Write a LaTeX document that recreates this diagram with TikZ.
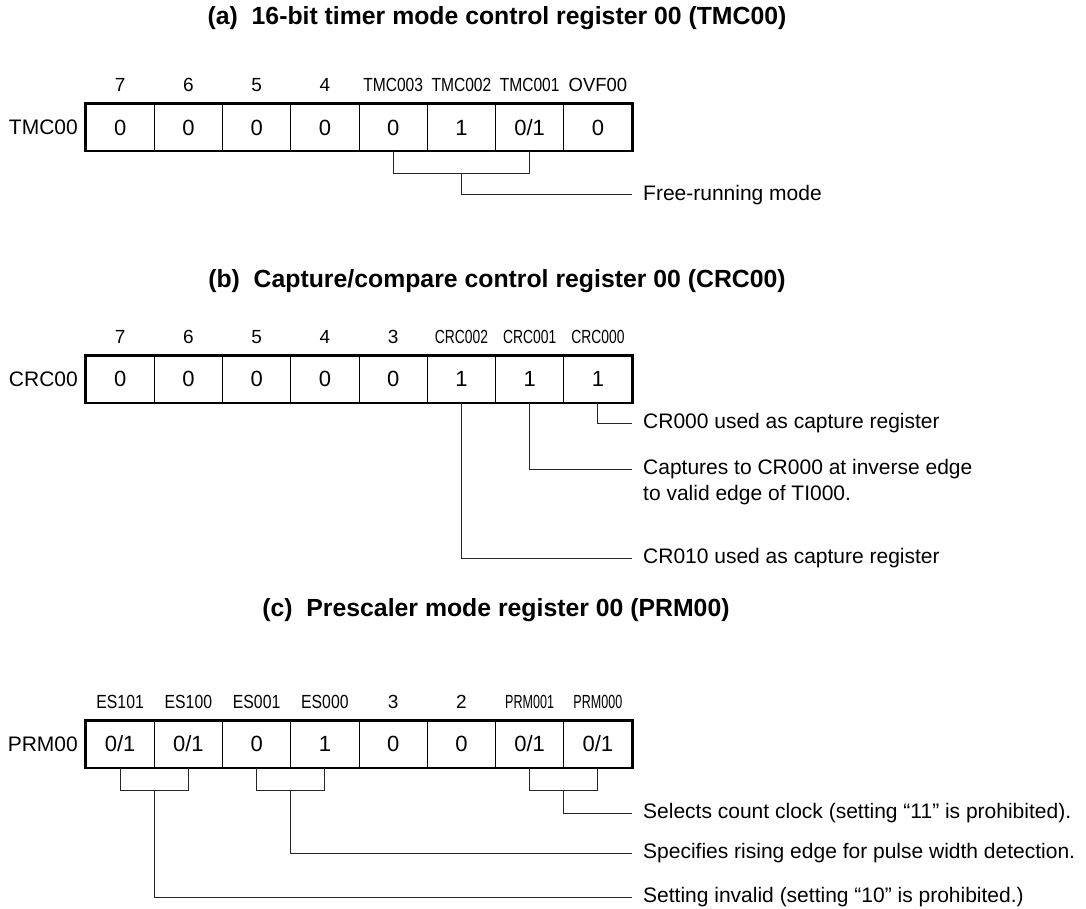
\documentclass[tikz,border=0pt]{standalone}
\usepackage{fontspec}
\usepackage{graphicx}
\setmainfont{Liberation Sans}
\usetikzlibrary{calc}
\begin{document}
\begin{tikzpicture}[x=1pt,y=-1pt,
  regcell/.style={draw,line width=1pt,minimum width=68.25pt,minimum height=46.5pt,inner sep=0pt,font=\fontsize{22}{25}\selectfont},
  regframe/.style={draw,line width=2.5pt},
  bitlbl/.style={inner sep=0pt,font=\fontsize{19}{22}\selectfont},
  reglbl/.style={anchor=east,inner sep=0pt,font=\fontsize{21}{24}\selectfont},
  ttl/.style={inner sep=0pt,font=\fontsize{24.8}{28}\selectfont\bfseries},
  desc/.style={anchor=west,inner xsep=11pt,inner ysep=0pt,align=left,font=\fontsize{21}{26}\selectfont},
  conn/.style={draw,line width=1pt,black!85}]
\useasboundingbox (0,0) rectangle (1086,909);

% ---------- (a) ----------
\node[ttl] (tta) at (497,18) {(a)\ \ 16-bit timer mode control register 00 (TMC00)};
\node[regcell] (a0) at (120.125,127.5) {0};
\node[regcell] (a1) at (188.375,127.5) {0};
\node[regcell] (a2) at (256.625,127.5) {0};
\node[regcell] (a3) at (324.875,127.5) {0};
\node[regcell] (a4) at (393.125,127.5) {0};
\node[regcell] (a5) at (461.375,127.5) {1};
\node[regcell] (a6) at (529.625,127.5) {0/1};
\node[regcell] (a7) at (597.875,127.5) {0};
\draw[regframe] (a0.north west) rectangle (a7.south east);
\node[reglbl] (la) at (78,127.5) {TMC00};
\node[bitlbl] (ba0) at (120.125,85) {7};
\node[bitlbl] (ba1) at (188.375,85) {6};
\node[bitlbl] (ba2) at (256.625,85) {5};
\node[bitlbl] (ba3) at (324.875,85) {4};
\node[bitlbl] (ba4) at (393.125,85) {\scalebox{0.82}[1]{TMC003}};
\node[bitlbl] (ba5) at (461.375,85) {\scalebox{0.82}[1]{TMC002}};
\node[bitlbl] (ba6) at (529.625,85) {\scalebox{0.82}[1]{TMC001}};
\node[bitlbl] (ba7) at (597.875,85) {\scalebox{0.97}[1]{OVF00}};
\coordinate (abr) at ($(a5.south)+(0,22)$);
\draw[conn] (a4.south) |- (abr) -| (a6.south);
\node[desc] (da) at (632,195) {Free-running mode};
\draw[conn] (abr) |- (da.west);

% ---------- (b) ----------
\node[ttl] (ttb) at (497,281) {(b)\ \ Capture/compare control register 00 (CRC00)};
\node[regcell] (b0) at (120.125,379) {0};
\node[regcell] (b1) at (188.375,379) {0};
\node[regcell] (b2) at (256.625,379) {0};
\node[regcell] (b3) at (324.875,379) {0};
\node[regcell] (b4) at (393.125,379) {0};
\node[regcell] (b5) at (461.375,379) {1};
\node[regcell] (b6) at (529.625,379) {1};
\node[regcell] (b7) at (597.875,379) {1};
\draw[regframe] (b0.north west) rectangle (b7.south east);
\node[reglbl] (lb) at (78,379) {CRC00};
\node[bitlbl] (bb0) at (120.125,337) {7};
\node[bitlbl] (bb1) at (188.375,337) {6};
\node[bitlbl] (bb2) at (256.625,337) {5};
\node[bitlbl] (bb3) at (324.875,337) {4};
\node[bitlbl] (bb4) at (393.125,337) {3};
\node[bitlbl] (bb5) at (461.375,337) {\scalebox{0.73}[1]{CRC002}};
\node[bitlbl] (bb6) at (529.625,337) {\scalebox{0.73}[1]{CRC001}};
\node[bitlbl] (bb7) at (597.875,337) {\scalebox{0.73}[1]{CRC000}};
\node[desc] (db1) at (632,423) {CR000 used as capture register};
\node[desc] (db2) at (632,482) {Captures to CR000 at inverse edge\\to valid edge of TI000.};
\node[desc] (db3) at (632,558) {CR010 used as capture register};
\draw[conn] (b7.south) |- (db1.west);
\draw[conn] (b6.south) |- ([yshift=13pt]db2.west);
\draw[conn] (b5.south) |- (db3.west);

% ---------- (c) ----------
\node[ttl] (ttc) at (496,610) {(c)\ \ Prescaler mode register 00 (PRM00)};
\node[regcell] (c0) at (120.125,744) {0/1};
\node[regcell] (c1) at (188.375,744) {0/1};
\node[regcell] (c2) at (256.625,744) {0};
\node[regcell] (c3) at (324.875,744) {1};
\node[regcell] (c4) at (393.125,744) {0};
\node[regcell] (c5) at (461.375,744) {0};
\node[regcell] (c6) at (529.625,744) {0/1};
\node[regcell] (c7) at (597.875,744) {0/1};
\draw[regframe] (c0.north west) rectangle (c7.south east);
\node[reglbl] (lc) at (78,744) {PRM00};
\node[bitlbl] (bc0) at (120.125,702) {\scalebox{0.83}[1]{ES101}};
\node[bitlbl] (bc1) at (188.375,702) {\scalebox{0.83}[1]{ES100}};
\node[bitlbl] (bc2) at (256.625,702) {\scalebox{0.83}[1]{ES001}};
\node[bitlbl] (bc3) at (324.875,702) {\scalebox{0.83}[1]{ES000}};
\node[bitlbl] (bc4) at (393.125,702) {3};
\node[bitlbl] (bc5) at (461.375,702) {2};
\node[bitlbl] (bc6) at (529.625,702) {\scalebox{0.66}[1]{PRM001}};
\node[bitlbl] (bc7) at (597.875,702) {\scalebox{0.66}[1]{PRM000}};
\coordinate (cbr1) at ($(c0.south)!0.5!(c1.south)+(0,23)$);
\coordinate (cbr2) at ($(c2.south)!0.5!(c3.south)+(0,23)$);
\coordinate (cbr3) at ($(c6.south)!0.5!(c7.south)+(0,23)$);
\draw[conn] (c0.south) |- (cbr1) -| (c1.south);
\draw[conn] (c2.south) |- (cbr2) -| (c3.south);
\draw[conn] (c6.south) |- (cbr3) -| (c7.south);
\node[desc] (dc1) at (632,813) {Selects count clock (setting “11” is prohibited).};
\node[desc] (dc2) at (632,853) {Specifies rising edge for pulse width detection.};
\node[desc] (dc3) at (632,897) {Setting invalid (setting “10” is prohibited.)};
\draw[conn] (cbr3) |- (dc1.west);
\draw[conn] (cbr2) |- (dc2.west);
\draw[conn] (cbr1) |- (dc3.west);
\end{tikzpicture}
\end{document}
